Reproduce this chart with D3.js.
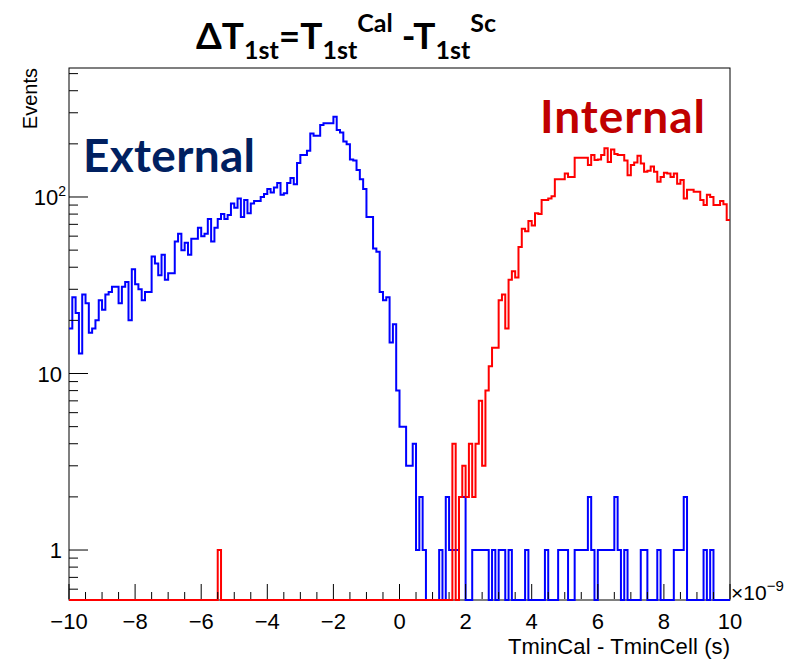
<!DOCTYPE html>
<html>
<head>
<meta charset="utf-8">
<script src="https://cdn.jsdelivr.net/npm/d3@7"></script>
<style>
body { margin: 0; background: #fff; }
text { font-family: "Liberation Sans", Arial, sans-serif; }
.big { font-family: Lato, "Open Sans", sans-serif; font-weight: bold; }
</style>
</head>
<body>
<div id="chart"></div>
<script>
// bin edges: 200 bins from -10 to 10 (units of 1e-9 s)
var xMin = -10, xMax = 10, nBins = 200;

// External (blue) counts per bin
var externalCounts = [
  18, 27, 22, 13, 28, 25, 17, 18, 20, 26,
  23, 28, 29, 31, 31, 25, 31, 33, 20, 39,
  32, 30, 26, 29, 29, 46, 42, 36, 47, 34,
  37, 37, 56, 62, 50, 55, 47, 58, 58, 67,
  60, 62, 75, 56, 67, 75, 80, 75, 79, 92,
  87, 98, 77, 96, 81, 92, 95, 95, 100, 104,
  111, 106, 113, 120, 103, 105, 120, 128, 118, 156,
  173, 173, 183, 229, 222, 222, 256, 262, 262, 262,
  285, 240, 232, 206, 199, 163, 161, 142, 126, 111,
  77, 77, 51, 49, 29, 26, 27, 15, 19, 8,
  5, 5, 3, 3, 4, 1, 2, 1, 0, 0,
  0, 0, 1, 0, 2, 1, 1, 1, 2, 2,
  0, 0, 1, 1, 1, 1, 1, 0, 1, 0,
  1, 1, 0, 1, 0, 0, 0, 0, 1, 0,
  0, 0, 0, 0, 1, 0, 0, 0, 1, 1,
  1, 0, 0, 1, 1, 1, 1, 2, 1, 0,
  1, 1, 1, 1, 1, 2, 1, 0, 1, 0,
  0, 0, 0, 1, 1, 0, 0, 0, 1, 0,
  0, 0, 0, 1, 1, 1, 2, 0, 0, 0,
  0, 0, 1, 0, 1, 0, 0, 0, 0, 0
];

// Internal (red) counts per bin
var internalCounts = [
  0, 0, 0, 0, 0, 0, 0, 0, 0, 0,
  0, 0, 0, 0, 0, 0, 0, 0, 0, 0,
  0, 0, 0, 0, 0, 0, 0, 0, 0, 0,
  0, 0, 0, 0, 0, 0, 0, 0, 0, 0,
  0, 0, 0, 0, 0, 1, 0, 0, 0, 0,
  0, 0, 0, 0, 0, 0, 0, 0, 0, 0,
  0, 0, 0, 0, 0, 0, 0, 0, 0, 0,
  0, 0, 0, 0, 0, 0, 0, 0, 0, 0,
  0, 0, 0, 0, 0, 0, 0, 0, 0, 0,
  0, 0, 0, 0, 0, 0, 0, 0, 0, 0,
  0, 0, 0, 0, 0, 0, 0, 0, 0, 0,
  0, 0, 0, 0, 0, 0, 4, 0, 2, 3,
  2, 4, 2, 4, 7, 3, 8, 11, 14, 14,
  26, 28, 18, 34, 38, 35, 52, 66, 64, 73,
  69, 81, 80, 96, 96, 98, 101, 126, 126, 126,
  136, 130, 130, 167, 167, 167, 167, 152, 173, 162,
  163, 173, 189, 158, 186, 175, 173, 173, 161, 133,
  152, 157, 171, 155, 139, 141, 149, 139, 122, 130,
  137, 136, 130, 136, 119, 125, 98, 110, 110, 107,
  107, 96, 90, 103, 100, 90, 90, 95, 91, 74
];

var xMajorTicks = [-10, -8, -6, -4, -2, 0, 2, 4, 6, 8, 10];
var yMajorTicks = [1, 10, 100];
var yMinorTicks = [0.6, 0.7, 0.8, 0.9, 2, 3, 4, 5, 6, 7, 8, 9, 20, 30, 40, 50, 60, 70, 80, 90, 200, 300, 400, 500];

var width = 791, height = 659;
var fLeft = 69, fRight = 730, fTop = 68, fBottom = 600;
var yLow = 0.521, yHigh = 538;

var svg = d3.select("#chart").append("svg")
    .attr("width", width)
    .attr("height", height);

var x = d3.scaleLinear().domain([xMin, xMax]).range([fLeft, fRight]);
var y = d3.scaleLog().domain([yLow, yHigh]).range([fBottom, fTop]);
var binW = (xMax - xMin) / nBins;

// step outline of a histogram, zero bins sit on the frame bottom
function histPoints(counts) {
    var pts = [];
    counts.forEach(function(c, i) {
        var v = Math.max(c, yLow);
        pts.push([xMin + i * binW, v]);
        pts.push([xMin + (i + 1) * binW, v]);
    });
    return pts;
}

var line = d3.line()
    .x(function(d) { return x(d[0]); })
    .y(function(d) { return y(d[1]); });

// frame first, histograms go over it
svg.append("rect")
    .attr("x", fLeft).attr("y", fTop)
    .attr("width", fRight - fLeft).attr("height", fBottom - fTop)
    .attr("fill", "none").attr("stroke", "#000").attr("stroke-width", 1);

svg.append("defs").append("clipPath").attr("id", "frame")
    .append("rect").attr("x", fLeft).attr("y", fTop)
    .attr("width", fRight - fLeft).attr("height", fBottom - fTop + 1);

svg.append("path")
    .attr("d", line(histPoints(externalCounts)))
    .attr("fill", "none")
    .attr("stroke", "#0000ff")
    .attr("stroke-width", 2)
    .attr("clip-path", "url(#frame)");

svg.append("path")
    .attr("d", line(histPoints(internalCounts)))
    .attr("fill", "none")
    .attr("stroke", "#ff0000")
    .attr("stroke-width", 2)
    .attr("clip-path", "url(#frame)");

// x ticks
var xMinor = d3.range(xMin, xMax + 0.001, 0.5);
svg.selectAll("line.xminor").data(xMinor).enter().append("line")
    .attr("x1", function(d) { return x(d); }).attr("x2", function(d) { return x(d); })
    .attr("y1", fBottom - 1).attr("y2", function(d) { return d % 2 === 0 ? fBottom - 16 : fBottom - 8; })
    .attr("stroke", "#000").attr("stroke-width", 1);

svg.selectAll("text.xlab").data(xMajorTicks).enter().append("text")
    .attr("x", function(d) { return x(d); })
    .attr("y", 629)
    .attr("text-anchor", "middle")
    .attr("font-size", 22)
    .text(function(d) { return d < 0 ? "\u2212" + (-d) : d; });

// x exponent
var xe = svg.append("text").attr("x", 731).attr("y", 600).attr("font-size", 21);
xe.append("tspan").text("\u00d710");
xe.append("tspan").attr("dy", -9).attr("font-size", 15).text("\u22129");

svg.append("text")
    .attr("x", fRight).attr("y", 654)
    .attr("text-anchor", "end")
    .attr("font-size", 22)
    .attr("textLength", 222).attr("lengthAdjust", "spacing")
    .text("TminCal - TminCell (s)");

// y ticks
svg.selectAll("line.ymajor").data(yMajorTicks).enter().append("line")
    .attr("x1", fLeft).attr("x2", fLeft + 19)
    .attr("y1", function(d) { return y(d); }).attr("y2", function(d) { return y(d); })
    .attr("stroke", "#000").attr("stroke-width", 1);
svg.selectAll("line.yminor").data(yMinorTicks).enter().append("line")
    .attr("x1", fLeft).attr("x2", fLeft + 9)
    .attr("y1", function(d) { return y(d); }).attr("y2", function(d) { return y(d); })
    .attr("stroke", "#000").attr("stroke-width", 1);

svg.append("text").attr("x", 62).attr("y", y(1) + 8).attr("text-anchor", "end")
    .attr("font-size", 22).text("1");
svg.append("text").attr("x", 62).attr("y", y(10) + 8).attr("text-anchor", "end")
    .attr("font-size", 22).text("10");
var y100 = svg.append("text").attr("x", 66).attr("y", y(100) + 8).attr("text-anchor", "end").attr("font-size", 22);
y100.append("tspan").text("10");
y100.append("tspan").attr("dy", -9).attr("font-size", 14).text("2");

svg.append("text")
    .attr("transform", "translate(37," + fTop + ") rotate(-90)")
    .attr("text-anchor", "end")
    .attr("font-size", 20)
    .text("Events");

// title
var t = svg.append("text").attr("class", "big").attr("x", 196).attr("y", 49).attr("font-size", 37).attr("fill", "#000");
t.append("tspan").text("\u0394T");
t.append("tspan").attr("font-size", 25).attr("dy", 10).text("1st");
t.append("tspan").attr("dy", -10).text("=T");
t.append("tspan").attr("font-size", 25).attr("dy", 10).text("1st");
t.append("tspan").attr("font-size", 25).attr("dy", -27).text("Cal");
t.append("tspan").attr("dy", 17).text(" -T");
t.append("tspan").attr("font-size", 25).attr("dy", 10).text("1st");
t.append("tspan").attr("font-size", 25).attr("dy", -27).text("Sc");

// annotations
svg.append("text").attr("class", "big")
    .attr("x", 83).attr("y", 172)
    .attr("font-size", 46).attr("fill", "#002060")
    .attr("textLength", 172).attr("lengthAdjust", "spacing")
    .text("External");
svg.append("text").attr("class", "big")
    .attr("x", 540).attr("y", 133)
    .attr("font-size", 46).attr("fill", "#c00000")
    .attr("textLength", 165).attr("lengthAdjust", "spacing")
    .text("Internal");
</script>
</body>
</html>
